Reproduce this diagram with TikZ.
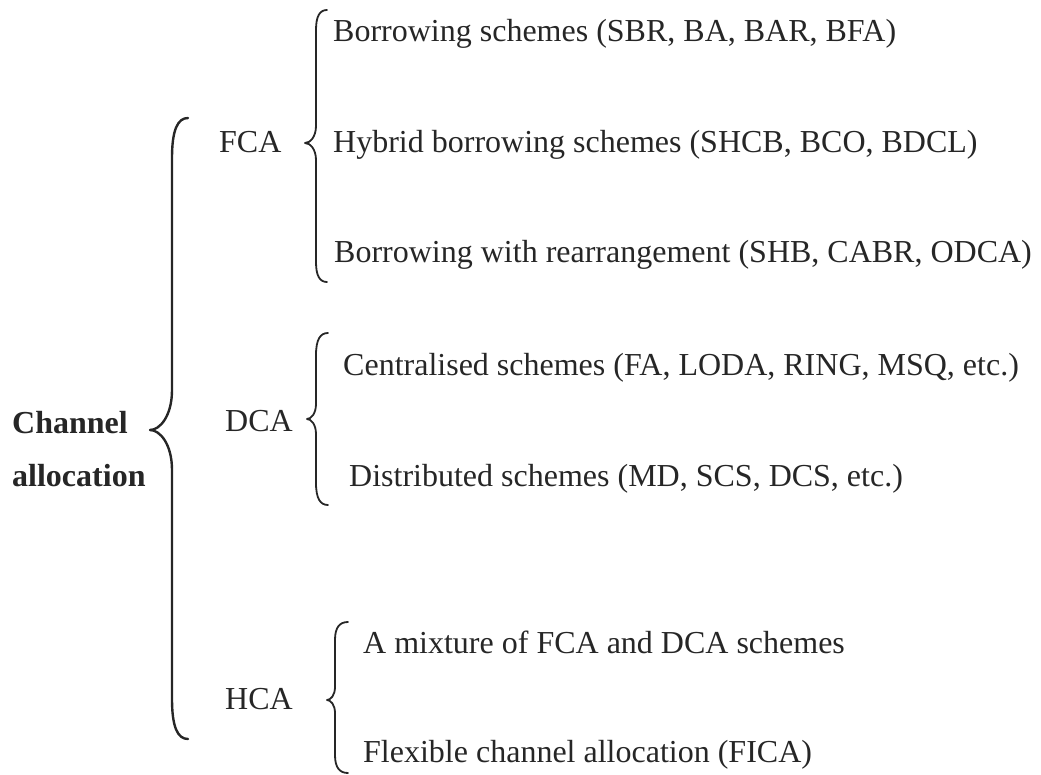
\documentclass[tikz,border=0pt]{standalone}
\usepackage{fontspec}
\setmainfont{Liberation Serif}
\definecolor{ink}{HTML}{262626}
% Curly brace: [options]{tip x}{tip y}{stem x}{end x}{top y}{bottom y}{end curl}{middle curl}
\newcommand{\curly}[9][]{%
  \draw[brace,#1] (#5,#6) .. controls ({#4+0.35*(#5-#4)},#6) and (#4,{#6+0.3*#8}) .. (#4,{#6+#8})
    -- (#4,{#3-#9}) .. controls (#4,{#3-0.35*#9}) and ({#2+0.45*(#4-#2)},#3) .. (#2,#3)
    .. controls ({#2+0.45*(#4-#2)},#3) and (#4,{#3+0.35*#9}) .. (#4,{#3+#9})
    -- (#4,{#7-#8}) .. controls (#4,{#7-0.3*#8}) and ({#4+0.35*(#5-#4)},#7) .. (#5,#7);}
\begin{document}
\begin{tikzpicture}[x=1pt,y=-1pt,
  brace/.style={draw=ink,line width=1.8pt,line cap=round,line join=round},
  label/.style={anchor=base west,inner sep=0pt,text=ink,font=\fontsize{32}{38}\selectfont},
  root/.style={label,font=\fontsize{32}{38}\selectfont\bfseries}]
\useasboundingbox (0,0) rectangle (1041,775);

% root
\node[root] (ch) at (12,433) {Channel};
\node[root] (al) at (12,486) {allocation};
\curly[line width=2.4pt]{150}{430}{172}{188}{118}{739}{40}{40}

% fixed channel allocation
\node[label] (fca) at (219,153) {FCA};
\curly{305}{143}{316}{327}{10}{282}{20}{17}
\node[label] (f1) at (333,42) {Borrowing schemes (SBR, BA, BAR, BFA)};
\node[label] (f2) at (333,153) {Hybrid borrowing schemes (SHCB, BCO, BDCL)};
\node[label] (f3) at (334,263) {Borrowing with rearrangement (SHB, CABR, ODCA)};

% dynamic channel allocation
\node[label] (dca) at (225,431) {DCA};
\curly{307}{419}{316}{328}{333}{505}{22}{15}
\node[label] (d1) at (343,375) {Centralised schemes (FA, LODA, RING, MSQ, etc.)};
\node[label] (d2) at (349,486) {Distributed schemes (MD, SCS, DCS, etc.)};

% hybrid channel allocation
\node[label] (hca) at (225,709) {HCA};
\curly{327}{700}{335}{348}{622}{773}{18}{13}
\node[label] (h1) at (363,653) {A mixture of FCA and DCA schemes};
\node[label] (h2) at (363,762) {Flexible channel allocation (FICA)};
\end{tikzpicture}
\end{document}
